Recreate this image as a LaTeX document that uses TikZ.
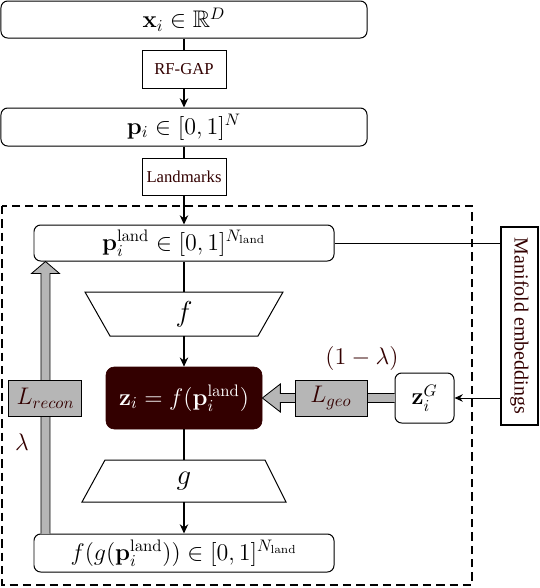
\documentclass[tikz,border=0pt]{standalone}
\usepackage{amsmath,amssymb}
\usepackage[no-math]{fontspec}
\setmainfont{Liberation Serif}
\usetikzlibrary{arrows.meta,calc}
\definecolor{dred}{RGB}{51,0,0}
\definecolor{lgray}{RGB}{182,182,182}
\def\pxu{0.6pt}
\begin{document}
\begin{tikzpicture}[x=0.6pt,y=-0.6pt,
  roundbox/.style={draw, line width=0.6pt, rounded corners=4pt, fill=white, inner sep=0pt},
  sqbox/.style={draw, line width=0.6pt, fill=white, inner sep=0pt, text=dred},
  graybox/.style={draw, line width=0.6pt, fill=lgray, inner sep=0pt, text=dred},
  conn/.style={line width=0.9pt},
  arr/.style={line width=0.9pt, -{Stealth[length=5.5pt,width=5pt]}},
  thinarr/.style={line width=0.6pt, -{Stealth[length=5pt,width=4.5pt]}},
  grayarr/.style={fill=lgray, draw=black, line width=0.5pt}
]
\useasboundingbox (0,0) rectangle (540,588);

% dashed frame
\draw[line width=1.1pt, dash pattern=on 5pt off 3pt] (2,206) rectangle (472,585);

% nodes
\node[roundbox, minimum width=366*\pxu, minimum height=37*\pxu] (xi) at (184,19.5) {\Large $\mathbf{x}_i\in\mathbb{R}^D$};
\node[sqbox, minimum width=84*\pxu, minimum height=38*\pxu] (rf) at (184,69) {RF-GAP};
\node[roundbox, minimum width=366*\pxu, minimum height=38*\pxu] (pi) at (184,127) {\Large $\mathbf{p}_i\in[0,1]^N$};
\node[sqbox, minimum width=84*\pxu, minimum height=37*\pxu] (lm) at (184,176.5) {Landmarks};
\node[roundbox, minimum width=300*\pxu, minimum height=36*\pxu] (pl) at (184,243) {\Large $\mathbf{p}_i^{\mathrm{land}}\in[0,1]^{N_{\mathrm{land}}}$};
\node[draw, line width=0.9pt, fill=white, inner sep=0pt, text=dred, rotate=-90, minimum width=198*\pxu, minimum height=37*\pxu] (mf) at (519.5,326) {\large Manifold embeddings};

% trapezoids f and g
\draw[line width=0.6pt] (85,292) -- (283,292) -- (258,336) -- (110,336) -- cycle;
\node[inner sep=0pt, minimum width=150*\pxu, minimum height=44*\pxu] (f) at (184,314) {\LARGE $f$};
\draw[line width=0.6pt] (105,460) -- (265,460) -- (286,502) -- (82,502) -- cycle;
\node[inner sep=0pt, minimum width=160*\pxu, minimum height=42*\pxu] (g) at (184,481) {\LARGE $g$};

\node[draw=dred, fill=dred, rounded corners=5pt, inner sep=0pt, text=white, minimum width=156*\pxu, minimum height=62*\pxu] (z) at (184,398) {\Large $\mathbf{z}_i=f(\mathbf{p}_i^{\mathrm{land}})$};
\node[roundbox, minimum width=59*\pxu, minimum height=50*\pxu] (zg) at (424.5,398) {\Large $\mathbf{z}_i^G$};
\node[roundbox, minimum width=300*\pxu, minimum height=38*\pxu] (fg) at (184,553) {\Large $f(g(\mathbf{p}_i^{\mathrm{land}}))\in[0,1]^{N_{\mathrm{land}}}$};

% gray thick arrows (drawn before the loss boxes)
\coordinate (vx) at (45.5,0);
\coordinate (vtip) at (pl.south -| vx);
\coordinate (vbase) at (fg.north -| vx);
\filldraw[grayarr] ($(vbase)+(-4.5,0)$) -- ($(vtip)+(-4.5,12)$) -- ($(vtip)+(-14,12)$) -- (vtip) -- ($(vtip)+(14,12)$) -- ($(vtip)+(4.5,12)$) -- ($(vbase)+(4.5,0)$);
\coordinate (htip) at (z.east);
\coordinate (hbase) at (zg.west);
\filldraw[grayarr] ($(hbase)+(0,-4.5)$) -- ($(htip)+(18,-4.5)$) -- ($(htip)+(18,-14)$) -- (htip) -- ($(htip)+(18,14)$) -- ($(htip)+(18,4.5)$) -- ($(hbase)+(0,4.5)$);

\node[graybox, minimum width=73*\pxu, minimum height=36*\pxu] (lr) at (45.5,398) {\Large $L_{recon}$};
\node[graybox, minimum width=72*\pxu, minimum height=36*\pxu] (lgeo) at (331,398) {\Large $L_{geo}$};

% labels
\node[text=dred] (oml) at (362,358) {\Large $(1-\lambda)$};
\node[text=dred] (lam) at (22,442) {\Large $\lambda$};

% connectors
\draw[conn] (xi.south) -- (rf.north);
\draw[arr] (rf.south) -- (pi.north);
\draw[conn] (pi.south) -- (lm.north);
\draw[arr] (lm.south) -- (pl.north);
\draw[conn] (pl.south) -- (f.north);
\draw[arr] (f.south) -- (z.north);
\draw[conn] (z.south) -- (g.north);
\draw[arr] (g.south) -- (fg.north);
\draw[line width=0.6pt] (pl.east) -- (pl.east -| mf.south);
\draw[thinarr] (zg.east -| mf.south) -- (zg.east);
\end{tikzpicture}
\end{document}
